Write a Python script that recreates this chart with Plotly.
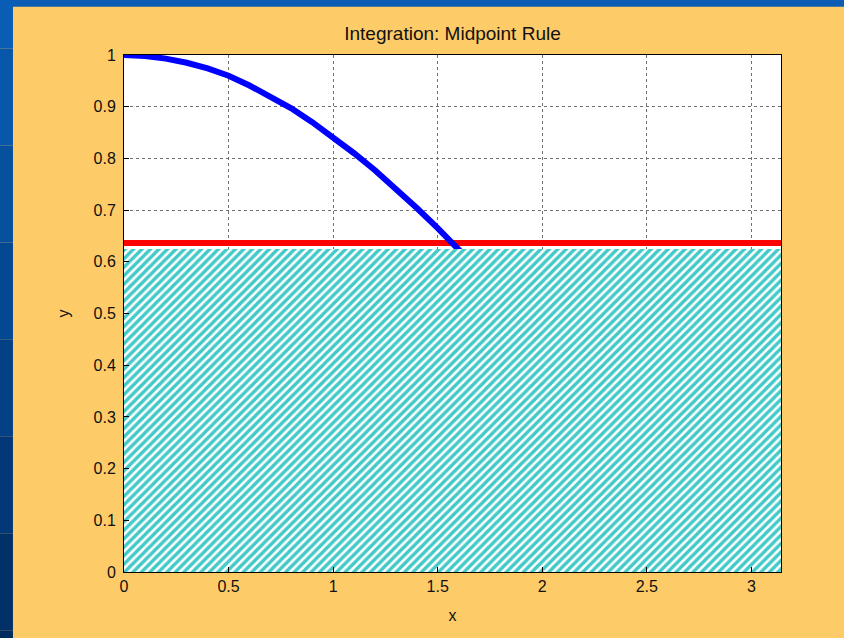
import plotly.graph_objects as go

# curve values
curve_x = [0.0, 0.1, 0.2, 0.3, 0.4, 0.5, 0.6, 0.7, 0.8, 0.9, 1.0, 1.1, 1.2, 1.3, 1.4, 1.5, 1.6,
           1.8, 2.0, 2.2, 2.4, 2.6, 2.8, 3.0, 3.1416]
curve_y = [1.0, 0.998, 0.993, 0.985, 0.974, 0.960, 0.941, 0.920, 0.897, 0.870, 0.841, 0.810,
           0.777, 0.741, 0.704, 0.665, 0.625, 0.541, 0.455, 0.368, 0.281, 0.198, 0.120, 0.047, 0.0]

# midpoint rule rectangle and its mean value line
rect_x = [0.0, 0.0, 3.1416, 3.1416, 0.0]
rect_y = [0.0, 0.625, 0.625, 0.0, 0.0]
mean_x = [0.0, 3.1416]
mean_y = [0.6366, 0.6366]

x_ticks = [0, 0.5, 1, 1.5, 2, 2.5, 3]
y_ticks = [0, 0.1, 0.2, 0.3, 0.4, 0.5, 0.6, 0.7, 0.8, 0.9, 1]

fig = go.Figure()
fig.add_trace(go.Scatter(x=mean_x, y=mean_y, mode="lines",
                         line=dict(color="#FF0000", width=6), hoverinfo="skip"))
fig.add_trace(go.Scatter(x=curve_x, y=curve_y, mode="lines",
                         line=dict(color="#0000FF", width=6), hoverinfo="skip"))
fig.add_trace(go.Scatter(x=rect_x, y=rect_y, mode="lines", fill="toself",
                         line=dict(width=0), fillcolor="rgba(0,0,0,0)",
                         fillpattern=dict(shape="/", fgcolor="#42CAC8", bgcolor="#FFFFFF",
                                          fgopacity=1, size=6, solidity=0.58),
                         hoverinfo="skip"))

shapes = [dict(type="rect", xref="paper", yref="paper", x0=-0.3, x1=1.3, y0=1.0935, y1=1.4,
               fillcolor="#0B5CB4", line=dict(width=0), layer="above")]
# left blue gradient strip
cols = ["#0A5DB5", "#0857AA", "#06509E", "#054892", "#044085", "#033878", "#02316A", "#022C60"]
n = len(cols)
top, bot = 1.2, -0.3
for i, c in enumerate(cols):
    y1 = top - (top - bot) * i / n
    y0 = top - (top - bot) * (i + 1) / n
    shapes.append(dict(type="rect", xref="paper", yref="paper", x0=-0.3, x1=-0.169,
                       y0=y0, y1=y1, fillcolor=c, line=dict(width=0), layer="above"))

fig.update_layout(
    width=844, height=638,
    margin=dict(l=124, r=63, t=55, b=66),
    paper_bgcolor="#FECB69",
    plot_bgcolor="#FFFFFF",
    showlegend=False,
    shapes=shapes,
    title=dict(text="Integration: Midpoint Rule", xref="paper", x=0.5, xanchor="center",
               y=0.948, yanchor="middle",
               font=dict(family="Liberation Sans, Arial", size=19, color="#111111")),
    font=dict(family="Liberation Sans, Arial", size=16, color="#111111"),
)
fig.update_xaxes(range=[0, 3.1416], tickvals=x_ticks, ticktext=[str(t) for t in x_ticks],
                 showgrid=True, gridcolor="#707070", griddash="dot", gridwidth=1,
                 showline=True, linecolor="#000000", linewidth=1, mirror=True,
                 ticks="inside", ticklen=5, tickcolor="#000000", zeroline=False,
                 title=dict(text="x", standoff=15, font=dict(size=16)))
fig.update_yaxes(range=[0, 1], tickvals=y_ticks, ticktext=[str(t) for t in y_ticks],
                 showgrid=True, gridcolor="#707070", griddash="dot", gridwidth=1,
                 showline=True, linecolor="#000000", linewidth=1, mirror=True,
                 ticks="inside", ticklen=5, tickcolor="#000000", zeroline=False,
                 ticklabelstandoff=4,
                 title=dict(text="y", standoff=19, font=dict(size=16)))

fig.write_html("out.html", config={"displayModeBar": False},
               post_script="document.body.style.margin='0';")
